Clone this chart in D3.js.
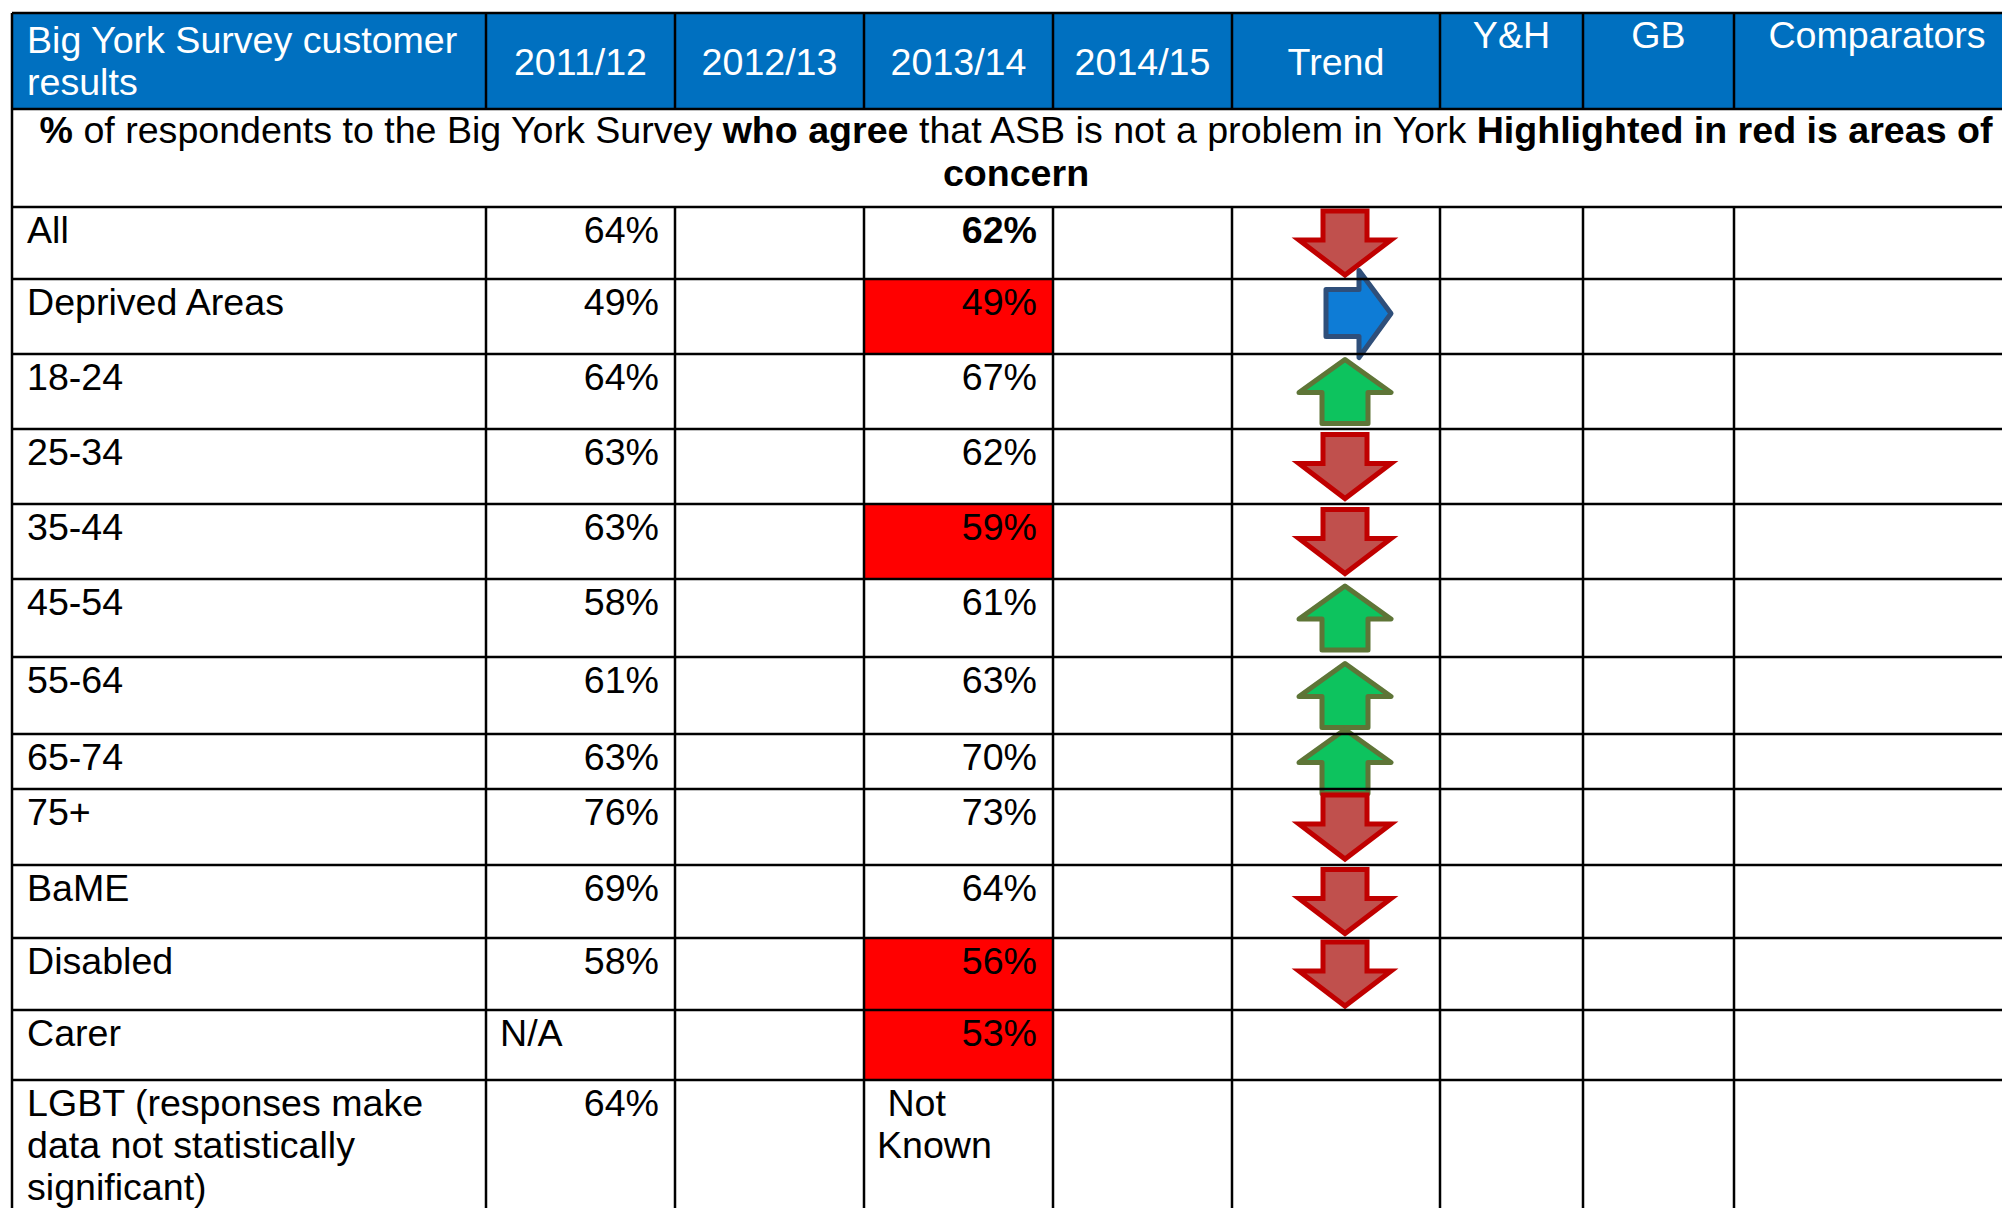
<!DOCTYPE html>
<html>
<head>
<meta charset="utf-8">
<script src="https://cdn.jsdelivr.net/npm/d3@7"></script>
<style>
  body { margin: 0; background: #fff; }
  svg text { font-family: "Liberation Sans", Arial, sans-serif; font-size: 37.6px; white-space: pre; }
</style>
</head>
<body>
<div id="chart"></div>
<script>
// table content
const headers = ["Big York Survey customer results", "2011/12", "2012/13", "2013/14", "2014/15", "Trend", "Y&H", "GB", "Comparators"];
const groups = ["All", "Deprived Areas", "18-24", "25-34", "35-44", "45-54", "55-64", "65-74", "75+", "BaME", "Disabled", "Carer",
  "LGBT (responses make data not statistically significant)"];
const values2011 = [64, 49, 64, 63, 63, 58, 61, 63, 76, 69, 58, null, 64];
const values2013 = [62, 49, 67, 62, 59, 61, 63, 70, 73, 64, 56, 53, null];
const trends = ["down", "level", "up", "down", "down", "up", "up", "up", "down", "down", "down", null, null];
const concern = ["Deprived Areas", "35-44", "Disabled", "Carer"];
const subtitle1 = [["%", true], [" of respondents to the Big York Survey ", false], ["who agree", true],
  [" that ASB is not a problem in York ", false], ["Highlighted in red is areas of", true]];
const subtitle2 = [["concern", true]];

// layout
const W = 2002, H = 1208;
const colEdges = [12, 486, 675, 864, 1053, 1232, 1440, 1583, 1734, 2020];
const headTop = 13, headBottom = 109, subBottom = 207;
const rowEdges = [207, 279, 354, 429, 504, 579, 657, 734, 789, 865, 938, 1010, 1080, 1260];
const lineH = 42;

const x = d3.scaleOrdinal().domain(headers).range(colEdges.slice(0, -1));
const cw = h => colEdges[headers.indexOf(h) + 1] - x(h);
const y = d3.scaleOrdinal().domain(groups).range(rowEdges.slice(0, -1));
const rh = g => rowEdges[groups.indexOf(g) + 1] - y(g);

const svg = d3.select("#chart").append("svg")
  .attr("width", W).attr("height", H);

// word wrap into tspans
function wrap(sel, maxW) {
  sel.each(function () {
    const t = d3.select(this);
    const words = t.text().split(" ");
    const x0 = t.attr("x");
    t.text(null);
    let line = [], ts = t.append("tspan").attr("x", x0);
    words.forEach(w => {
      line.push(w);
      ts.text(line.join(" "));
      if (ts.node().getComputedTextLength() > maxW && line.length > 1) {
        line.pop();
        ts.text(line.join(" "));
        line = [w];
        ts = t.append("tspan").attr("x", x0).attr("dy", lineH).text(w);
      }
    });
  });
}

// header band
svg.append("rect")
  .attr("x", colEdges[0]).attr("y", headTop)
  .attr("width", colEdges[colEdges.length - 1] - colEdges[0])
  .attr("height", headBottom - headTop)
  .attr("fill", "#0070C0");

svg.selectAll(".head").data(headers).enter().append("text")
  .attr("class", "head")
  .attr("fill", "#fff")
  .attr("x", (d, i) => i === 0 ? x(d) + 15 : x(d) + cw(d) / 2)
  .attr("y", (d, i) => i === 0 ? headTop + 40 : (i <= 5 ? headTop + 62 : headTop + 35))
  .attr("text-anchor", (d, i) => i === 0 ? "start" : "middle")
  .text(d => d)
  .filter((d, i) => i === 0)
  .call(wrap, cw(headers[0]) - 30);

// subtitle (merged row)
const midX = (colEdges[0] + colEdges[colEdges.length - 1]) / 2;
[subtitle1, subtitle2].forEach((parts, li) => {
  const t = svg.append("text")
    .attr("x", midX).attr("y", headBottom + 34 + li * 43)
    .attr("text-anchor", "middle").attr("fill", "#000");
  t.selectAll("tspan").data(parts).enter().append("tspan")
    .attr("font-weight", d => d[1] ? "bold" : "normal")
    .text(d => d[0]);
});

// red highlight cells
svg.selectAll(".hl").data(concern).enter().append("rect")
  .attr("class", "hl")
  .attr("x", x("2013/14")).attr("y", d => y(d))
  .attr("width", cw("2013/14")).attr("height", d => rh(d))
  .attr("fill", "#FF0000");

// row labels
svg.selectAll(".lab").data(groups).enter().append("text")
  .attr("class", "lab")
  .attr("x", d => x(headers[0]) + 15)
  .attr("y", d => y(d) + 36)
  .text(d => d)
  .call(wrap, cw(headers[0]) - 30);

// 2011/12 values
svg.selectAll(".v11").data(values2011).enter().append("text")
  .attr("class", "v11")
  .attr("x", d => d == null ? x("2011/12") + 14 : x("2011/12") + cw("2011/12") - 16)
  .attr("y", (d, i) => y(groups[i]) + 36)
  .attr("text-anchor", d => d == null ? "start" : "end")
  .text(d => d == null ? "N/A" : d + "%");

// 2013/14 values
svg.selectAll(".v13").data(values2013).enter().append("text")
  .attr("class", "v13")
  .attr("x", d => d == null ? x("2013/14") + 13 : x("2013/14") + cw("2013/14") - 16)
  .attr("y", (d, i) => y(groups[i]) + 36)
  .attr("text-anchor", d => d == null ? "start" : "end")
  .attr("font-weight", (d, i) => groups[i] === "All" ? "bold" : "normal")
  .text(d => d == null ? "\u00a0Not Known" : d + "%")
  .filter(d => d == null)
  .call(wrap, cw("2013/14") - 30);

// trend arrow glyphs
const shapes = {
  down: { pts: [[-22, -32], [22, -32], [22, -3], [46, -3], [0, 32], [-46, -3], [-22, -3]], fill: "#C0504D", stroke: "#C00000", join: "miter" },
  up: { pts: [[0, -32], [46, 1], [23, 1], [23, 32], [-23, 32], [-23, 1], [-46, 1]], fill: "#0DC35E", stroke: "#5E7537", join: "round" },
  level: { pts: [[-19, -27], [14, -27], [14, -46], [46, -3], [14, 41], [14, 20], [-19, 20]], fill: "#0E7CD6", stroke: "#2F4F7A", join: "round" }
};
const arrowLine = d3.line().curve(d3.curveLinearClosed);
const tx = x("Trend") + cw("Trend") / 2 + 9;

svg.selectAll(".arrow").data(trends.map((t, i) => ({ t, g: groups[i] })).filter(d => d.t))
  .enter().append("path")
  .attr("class", "arrow")
  .attr("transform", d => `translate(${tx},${y(d.g) + rh(d.g) / 2})`)
  .attr("d", d => arrowLine(shapes[d.t].pts))
  .attr("fill", d => shapes[d.t].fill)
  .attr("stroke", d => shapes[d.t].stroke)
  .attr("stroke-width", 5)
  .attr("stroke-linejoin", d => shapes[d.t].join);

// grid
const grid = svg.append("g").attr("stroke", "#000").attr("stroke-width", 2.5);
const right = colEdges[colEdges.length - 1];
[headTop, headBottom].concat(rowEdges.slice(0, -1)).forEach(yy => {
  grid.append("line").attr("x1", colEdges[0]).attr("x2", right).attr("y1", yy).attr("y2", yy);
});
colEdges.forEach((xx, i) => {
  const edge = i === 0 || i === colEdges.length - 1;
  if (edge) {
    grid.append("line").attr("x1", xx).attr("x2", xx).attr("y1", headTop).attr("y2", H + 10);
  } else {
    grid.append("line").attr("x1", xx).attr("x2", xx).attr("y1", headTop).attr("y2", headBottom);
    grid.append("line").attr("x1", xx).attr("x2", xx).attr("y1", subBottom).attr("y2", H + 10);
  }
});
</script>
</body>
</html>
